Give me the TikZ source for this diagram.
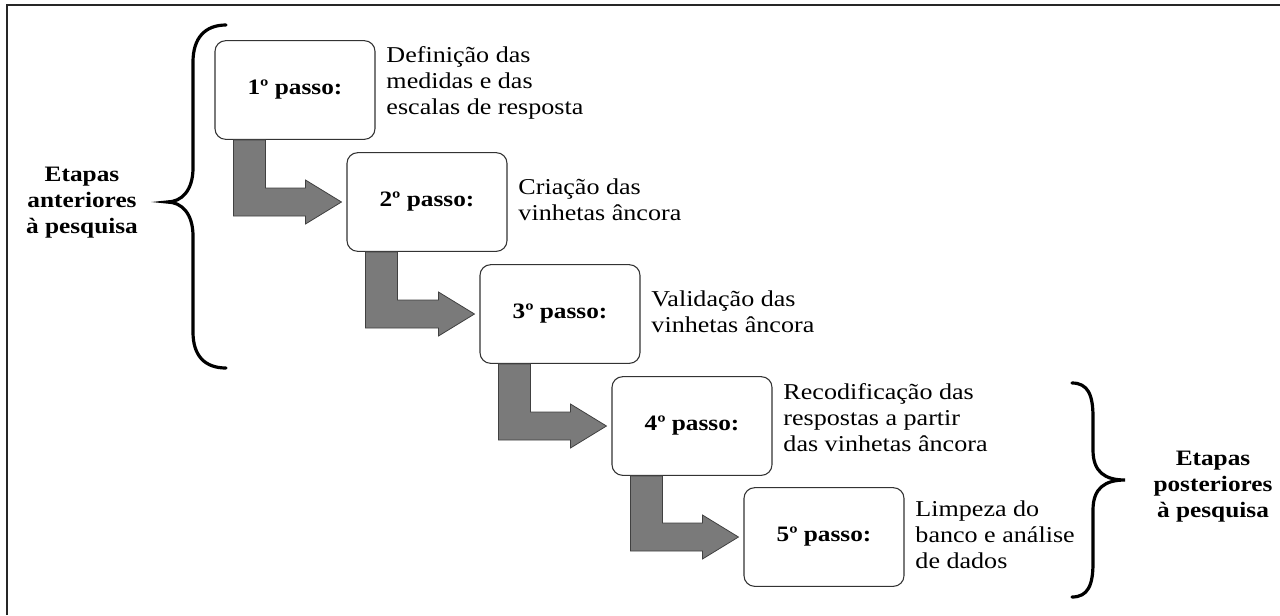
\documentclass[tikz,border=0pt]{standalone}
\usepackage{fontspec}
\setmainfont{Liberation Serif}[FakeStretch = 1.15]
\usepackage{tikz}
\usetikzlibrary{calc, positioning}

\newcommand{\setapasso}[2]{%
	\draw [seta] ($(#1.south west)+(19,0)$) -- ++(32,0) |- ($(#2.west)+(-41,-14)$) -- ++(0,-8) -- ($(#2.west)+(-5,0)$) -- ++(-36,22) -- ++(0,-8) -| ($(#1.south west)+(19,0)$) -- cycle;
}

\begin{document}
\begin{tikzpicture}[x = 0.75pt, y = -0.75pt,
	passo/.style = {draw = black!80, line width = 0.8pt, fill = white, rounded corners = 8pt, minimum width = 120pt, minimum height = 74pt, font = \fontsize{16.5}{19.5}\selectfont\bfseries},
	desc/.style = {align = left, inner sep = 0pt, font = \fontsize{17}{19.5}\selectfont},
	etapa/.style = {align = center, inner sep = 0pt, font = \fontsize{16.5}{19.5}\selectfont\bfseries},
	seta/.style = {fill = black!52, draw = black!75, line width = 0.6pt},
	chave/.style = {line width = 2.4pt, line cap = round}]
	\def\dist{8pt};

	\begin{scope}
		\useasboundingbox (0,0) rectangle (1280,615);
		\draw [line width = 1.5pt, black!85] (7,615) -- (7,5) -- (1280,5);
	\end{scope}

	\begin{scope}
		\node [passo] (p1) at (295,90) {1º passo:};
		\node [passo] (p2) at (427,202) {2º passo:};
		\node [passo] (p3) at (560,314) {3º passo:};
		\node [passo] (p4) at (692,426) {4º passo:};
		\node [passo] (p5) at (824,537) {5º passo:};
	\end{scope}

	\begin{scope}
		\setapasso{p1}{p2}
		\setapasso{p2}{p3}
		\setapasso{p3}{p4}
		\setapasso{p4}{p5}
	\end{scope}

	\begin{scope}
		\node [desc, right = \dist of p1, yshift = 5pt] (d1) {Definição das\\medidas e das\\escalas de resposta};
		\node [desc, right = \dist of p2, yshift = 2pt] (d2) {Criação das\\vinhetas âncora};
		\node [desc, right = \dist of p3, yshift = 1.5pt] (d3) {Validação das\\vinhetas âncora};
		\node [desc, right = \dist of p4, yshift = 6pt] (d4) {Recodificação das\\respostas a partir\\das vinhetas âncora};
		\node [desc, right = \dist of p5, yshift = 2pt] (d5) {Limpeza do\\banco e análise\\de dados};
	\end{scope}

	\begin{scope}
		\node [etapa] (ant) at (82,203) {Etapas\\anteriores\\à pesquisa};
		\node [etapa] (post) at (1213,487) {Etapas\\posteriores\\à pesquisa};
		\draw [chave] (226,25) .. controls (205,25) and (193,38) .. (193,62) -- (193,168) .. controls (193,190) and (182,202) .. (167,202) .. controls (182,202) and (193,214) .. (193,236) -- (193,332) .. controls (193,356) and (205,368) .. (226,368);
		\draw [chave] (1072,383) .. controls (1088,383) and (1093,395) .. (1093,417) -- (1093,450) .. controls (1093,472) and (1105,480) .. (1125,480) .. controls (1105,480) and (1093,488) .. (1093,510) -- (1093,563) .. controls (1093,585) and (1088,597) .. (1072,597);
	\end{scope}
\end{tikzpicture}
\end{document}
